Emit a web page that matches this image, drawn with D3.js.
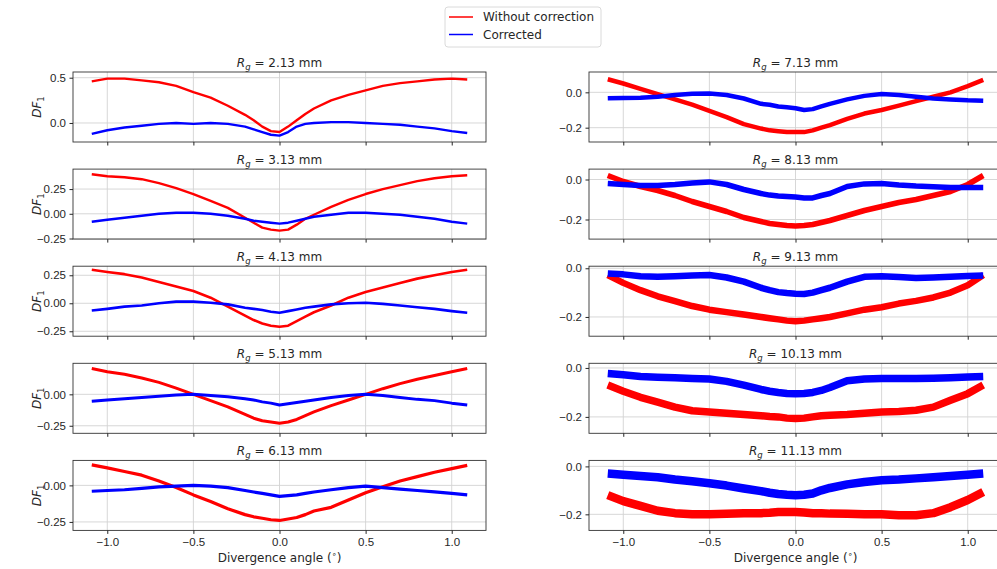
<!DOCTYPE html>
<html>
<head>
<meta charset="utf-8">
<script src="https://cdn.jsdelivr.net/npm/d3@7"></script>
<style>
  body { margin: 0; background: #fff; }
  svg { font-family: "DejaVu Sans", sans-serif; }
  .tick text { font-size: 11.5px; fill: #262626; }
  .tick line { stroke: #262626; }
</style>
</head>
<body>
<div id="chart"></div>
<script>
// divergence angle (deg) where the curves were read
const angles = [-1.09, -1.0, -0.9, -0.8, -0.7, -0.6, -0.5, -0.4, -0.3, -0.2, -0.15, -0.1, -0.05, 0,
  0.05, 0.1, 0.15, 0.2, 0.3, 0.4, 0.5, 0.6, 0.7, 0.8, 0.9, 1.0, 1.09];

const radii = ['2.13', '3.13', '4.13', '5.13', '6.13', '7.13', '8.13', '9.13', '10.13', '11.13'];

// DF1 without correction, one row per radius
const withoutCorrection = [
  [0.46, 0.49, 0.49, 0.47, 0.45, 0.41, 0.34, 0.28, 0.19, 0.09, 0.03, -0.04, -0.09, -0.10, -0.04, 0.03, 0.10, 0.16, 0.25, 0.31, 0.36, 0.41, 0.44, 0.46, 0.48, 0.49, 0.48],
  [0.40, 0.38, 0.37, 0.35, 0.31, 0.26, 0.20, 0.13, 0.06, -0.04, -0.09, -0.14, -0.16, -0.17, -0.16, -0.11, -0.05, -0.01, 0.07, 0.14, 0.20, 0.25, 0.29, 0.33, 0.36, 0.38, 0.39],
  [0.30, 0.28, 0.26, 0.23, 0.19, 0.15, 0.11, 0.05, -0.03, -0.11, -0.15, -0.18, -0.20, -0.21, -0.20, -0.16, -0.12, -0.08, -0.02, 0.05, 0.10, 0.14, 0.18, 0.22, 0.25, 0.28, 0.30],
  [0.205, 0.18, 0.16, 0.13, 0.095, 0.05, 0.0, -0.05, -0.10, -0.16, -0.19, -0.21, -0.22, -0.23, -0.22, -0.20, -0.17, -0.14, -0.09, -0.045, 0.0, 0.045, 0.085, 0.12, 0.15, 0.18, 0.205],
  [0.14, 0.12, 0.095, 0.07, 0.03, -0.015, -0.065, -0.11, -0.16, -0.20, -0.215, -0.225, -0.235, -0.24, -0.23, -0.22, -0.20, -0.175, -0.15, -0.10, -0.05, -0.01, 0.03, 0.06, 0.09, 0.115, 0.137],
  [0.074, 0.05, 0.02, -0.01, -0.04, -0.07, -0.105, -0.14, -0.18, -0.205, -0.215, -0.22, -0.225, -0.225, -0.225, -0.215, -0.20, -0.185, -0.15, -0.12, -0.10, -0.075, -0.05, -0.025, 0.0, 0.035, 0.07],
  [0.02, -0.01, -0.035, -0.055, -0.08, -0.11, -0.135, -0.16, -0.19, -0.21, -0.22, -0.225, -0.23, -0.233, -0.23, -0.225, -0.215, -0.205, -0.18, -0.155, -0.135, -0.115, -0.10, -0.08, -0.06, -0.025, 0.02],
  [-0.028, -0.06, -0.09, -0.115, -0.135, -0.155, -0.17, -0.18, -0.19, -0.20, -0.205, -0.21, -0.215, -0.218, -0.215, -0.21, -0.205, -0.20, -0.185, -0.17, -0.16, -0.145, -0.134, -0.12, -0.10, -0.07, -0.028],
  [-0.07, -0.095, -0.12, -0.14, -0.16, -0.175, -0.18, -0.185, -0.19, -0.195, -0.198, -0.20, -0.205, -0.207, -0.205, -0.20, -0.195, -0.193, -0.19, -0.185, -0.18, -0.178, -0.173, -0.16, -0.132, -0.105, -0.07],
  [-0.12, -0.145, -0.165, -0.185, -0.195, -0.20, -0.20, -0.198, -0.195, -0.195, -0.193, -0.19, -0.19, -0.19, -0.192, -0.195, -0.195, -0.197, -0.198, -0.20, -0.20, -0.204, -0.204, -0.195, -0.17, -0.14, -0.107]
];

// DF1 after correction
const corrected = [
  [-0.12, -0.08, -0.05, -0.03, -0.01, 0.0, -0.01, 0.0, -0.01, -0.04, -0.07, -0.10, -0.13, -0.14, -0.10, -0.04, -0.01, 0.0, 0.01, 0.01, 0.0, -0.01, -0.02, -0.04, -0.06, -0.09, -0.11],
  [-0.08, -0.06, -0.04, -0.02, 0.0, 0.01, 0.01, 0.0, -0.02, -0.05, -0.07, -0.08, -0.09, -0.10, -0.09, -0.07, -0.05, -0.03, -0.01, 0.01, 0.01, 0.0, -0.01, -0.03, -0.05, -0.08, -0.10],
  [-0.065, -0.05, -0.03, -0.02, 0.0, 0.015, 0.015, 0.005, -0.01, -0.04, -0.05, -0.06, -0.075, -0.085, -0.07, -0.055, -0.04, -0.03, -0.01, 0.0, 0.005, -0.005, -0.02, -0.035, -0.05, -0.07, -0.085],
  [-0.055, -0.045, -0.035, -0.025, -0.015, -0.005, 0.0, -0.01, -0.02, -0.035, -0.045, -0.06, -0.07, -0.085, -0.075, -0.065, -0.055, -0.045, -0.025, -0.01, 0.0, -0.01, -0.025, -0.04, -0.05, -0.07, -0.085],
  [-0.04, -0.035, -0.03, -0.02, -0.01, -0.005, 0.0, -0.005, -0.015, -0.035, -0.045, -0.055, -0.065, -0.075, -0.07, -0.065, -0.055, -0.045, -0.03, -0.015, -0.005, -0.015, -0.025, -0.035, -0.045, -0.055, -0.065],
  [-0.034, -0.032, -0.03, -0.025, -0.015, -0.008, -0.007, -0.015, -0.035, -0.065, -0.07, -0.08, -0.085, -0.09, -0.10, -0.095, -0.08, -0.065, -0.04, -0.02, -0.01, -0.015, -0.025, -0.035, -0.04, -0.045, -0.047],
  [-0.02, -0.025, -0.03, -0.03, -0.025, -0.018, -0.012, -0.025, -0.05, -0.07, -0.078, -0.082, -0.085, -0.088, -0.092, -0.092, -0.08, -0.07, -0.035, -0.022, -0.02, -0.028, -0.033, -0.036, -0.04, -0.04, -0.04],
  [-0.021, -0.025, -0.033, -0.035, -0.033, -0.03, -0.028, -0.038, -0.055, -0.08, -0.09, -0.098, -0.102, -0.105, -0.106, -0.10, -0.09, -0.08, -0.055, -0.035, -0.033, -0.036, -0.04, -0.038, -0.035, -0.032, -0.03],
  [-0.023, -0.028, -0.035, -0.038, -0.04, -0.043, -0.045, -0.055, -0.07, -0.088, -0.095, -0.10, -0.104, -0.105, -0.104, -0.10, -0.092, -0.08, -0.052, -0.045, -0.043, -0.043, -0.043, -0.042, -0.04, -0.037, -0.035],
  [-0.03, -0.035, -0.04, -0.045, -0.055, -0.062, -0.07, -0.08, -0.092, -0.103, -0.11, -0.115, -0.118, -0.12, -0.118, -0.113, -0.10, -0.09, -0.075, -0.065, -0.058, -0.055, -0.05, -0.045, -0.04, -0.035, -0.03]
];

const yDomains = [
  [-0.21, 0.563], [-0.256, 0.452], [-0.294, 0.331], [-0.31, 0.247], [-0.308, 0.171],
  [-0.281, 0.115], [-0.298, 0.052], [-0.279, 0.0085], [-0.267, 0.019], [-0.267, 0.025]
];
const yTicks = [
  [0, 0.5], [-0.25, 0, 0.25], [-0.25, 0, 0.25], [-0.25, 0], [-0.25, 0],
  [-0.2, 0], [-0.2, 0], [-0.2, 0], [-0.2, 0], [-0.2, 0]
];
const yFormats = ['.1f', '.2f', '.2f', '.2f', '.2f', '.1f', '.1f', '.1f', '.1f', '.1f'];
const xTicks = [-1, -0.5, 0, 0.5, 1];
const xDomain = [-1.199, 1.199];

const seriesNames = ['Without correction', 'Corrected'];
const seriesColors = ['#ff0000', '#0000ff'];
// band thickness of the noisy traces, per panel
const traceWidths = [2.4, 2.4, 2.6, 3, 3.2, 4.5, 5.5, 6.5, 7.5, 8.5];

const W = 997, H = 569;
const svg = d3.select('#chart').append('svg').attr('width', W).attr('height', H);

const cols = [[73, 486], [589, 1002]];
const top0 = 72, rowStep = 97.1, ph = 70;

radii.forEach((rg, i) => {
  const col = i < 5 ? 0 : 1, row = i % 5;
  const y0 = top0 + row * rowStep;
  const x = d3.scaleLinear(xDomain, cols[col]);
  const y = d3.scaleLinear(yDomains[i], [y0 + ph, y0]);
  const g = svg.append('g');

  g.append('clipPath').attr('id', 'clip' + i)
    .append('rect').attr('x', cols[col][0]).attr('y', y0)
    .attr('width', cols[col][1] - cols[col][0]).attr('height', ph);

  // grid
  g.append('g').selectAll('line').data(xTicks).join('line')
    .attr('x1', d => x(d)).attr('x2', d => x(d))
    .attr('y1', y0).attr('y2', y0 + ph)
    .attr('stroke', '#d2d2d2').attr('stroke-width', 0.9);
  g.append('g').selectAll('line').data(yTicks[i]).join('line')
    .attr('x1', cols[col][0]).attr('x2', cols[col][1])
    .attr('y1', d => y(d)).attr('y2', d => y(d))
    .attr('stroke', '#d2d2d2').attr('stroke-width', 0.9);

  // traces
  const line = d3.line().x((d, k) => x(angles[k])).y(d => y(d));
  g.append('g').attr('clip-path', `url(#clip${i})`)
    .selectAll('path').data([withoutCorrection[i], corrected[i]]).join('path')
      .attr('d', line)
      .attr('fill', 'none')
      .attr('stroke', (d, k) => seriesColors[k])
      .attr('stroke-width', traceWidths[i])
      .attr('stroke-linejoin', 'round');

  // frame
  g.append('rect').attr('x', cols[col][0]).attr('y', y0)
    .attr('width', cols[col][1] - cols[col][0]).attr('height', ph)
    .attr('fill', 'none').attr('stroke', '#333').attr('stroke-width', 0.9);

  // axes
  const ax = g.append('g').attr('transform', `translate(0,${y0 + ph})`)
    .call(d3.axisBottom(x).tickValues(xTicks).tickSize(3.5).tickPadding(3.5).tickSizeOuter(0)
      .tickFormat(row === 4 ? d3.format('.1f') : () => ''));
  ax.select('.domain').remove();

  const ay = g.append('g').attr('transform', `translate(${cols[col][0]},0)`)
    .call(d3.axisLeft(y).tickValues(yTicks[i]).tickSize(3.5).tickPadding(3.5).tickSizeOuter(0)
      .tickFormat(d3.format(yFormats[i])));
  ay.select('.domain').remove();
  ay.selectAll('text').attr('font-family', null);
  ax.selectAll('text').attr('font-family', null);

  // title
  const cx = (cols[col][0] + Math.min(cols[col][1], W + 5)) / 2;
  const t = g.append('text').attr('x', (cols[col][0] + cols[col][1]) / 2).attr('y', y0 - 5)
    .attr('text-anchor', 'middle').attr('font-size', 12).attr('fill', '#262626');
  t.append('tspan').attr('font-style', 'italic').text('R');
  t.append('tspan').attr('font-style', 'italic').attr('font-size', 8.5).attr('dy', 3).text('g');
  t.append('tspan').attr('dy', -3).text(` = ${rg} mm`);

  // y label on the left column
  if (col === 0) {
    const yl = g.append('text')
      .attr('transform', `translate(41,${y0 + ph / 2}) rotate(-90)`)
      .attr('text-anchor', 'middle').attr('font-size', 12).attr('fill', '#262626');
    yl.append('tspan').attr('font-style', 'italic').text('DF');
    yl.append('tspan').attr('font-size', 8.5).attr('dy', 3).text('1');
  }

  // x label on the bottom row
  if (row === 4) {
    const xl = g.append('text').attr('x', (cols[col][0] + cols[col][1]) / 2).attr('y', 562)
      .attr('text-anchor', 'middle').attr('font-size', 12).attr('fill', '#262626');
    xl.append('tspan').text('Divergence angle (');
    xl.append('tspan').attr('font-size', 8).attr('dy', -5).text('\u2218');
    xl.append('tspan').attr('dy', 5).text(')');
  }
});

// legend
const lg = svg.append('g').attr('transform', 'translate(445,7)');
lg.append('rect').attr('width', 156).attr('height', 40).attr('rx', 3)
  .attr('fill', '#fff').attr('stroke', '#d6d6d6').attr('stroke-width', 0.9);
const items = lg.selectAll('g.item').data(seriesNames).join('g').attr('class', 'item')
  .attr('transform', (d, k) => `translate(0,${10 + k * 17.5})`);
items.append('line').attr('x1', 4).attr('x2', 28)
  .attr('stroke', (d, k) => seriesColors[k]).attr('stroke-width', 1.5);
items.append('text').attr('x', 38).attr('dy', '0.35em').attr('font-size', 12)
  .attr('fill', '#262626').text(d => d);
</script>
</body>
</html>
